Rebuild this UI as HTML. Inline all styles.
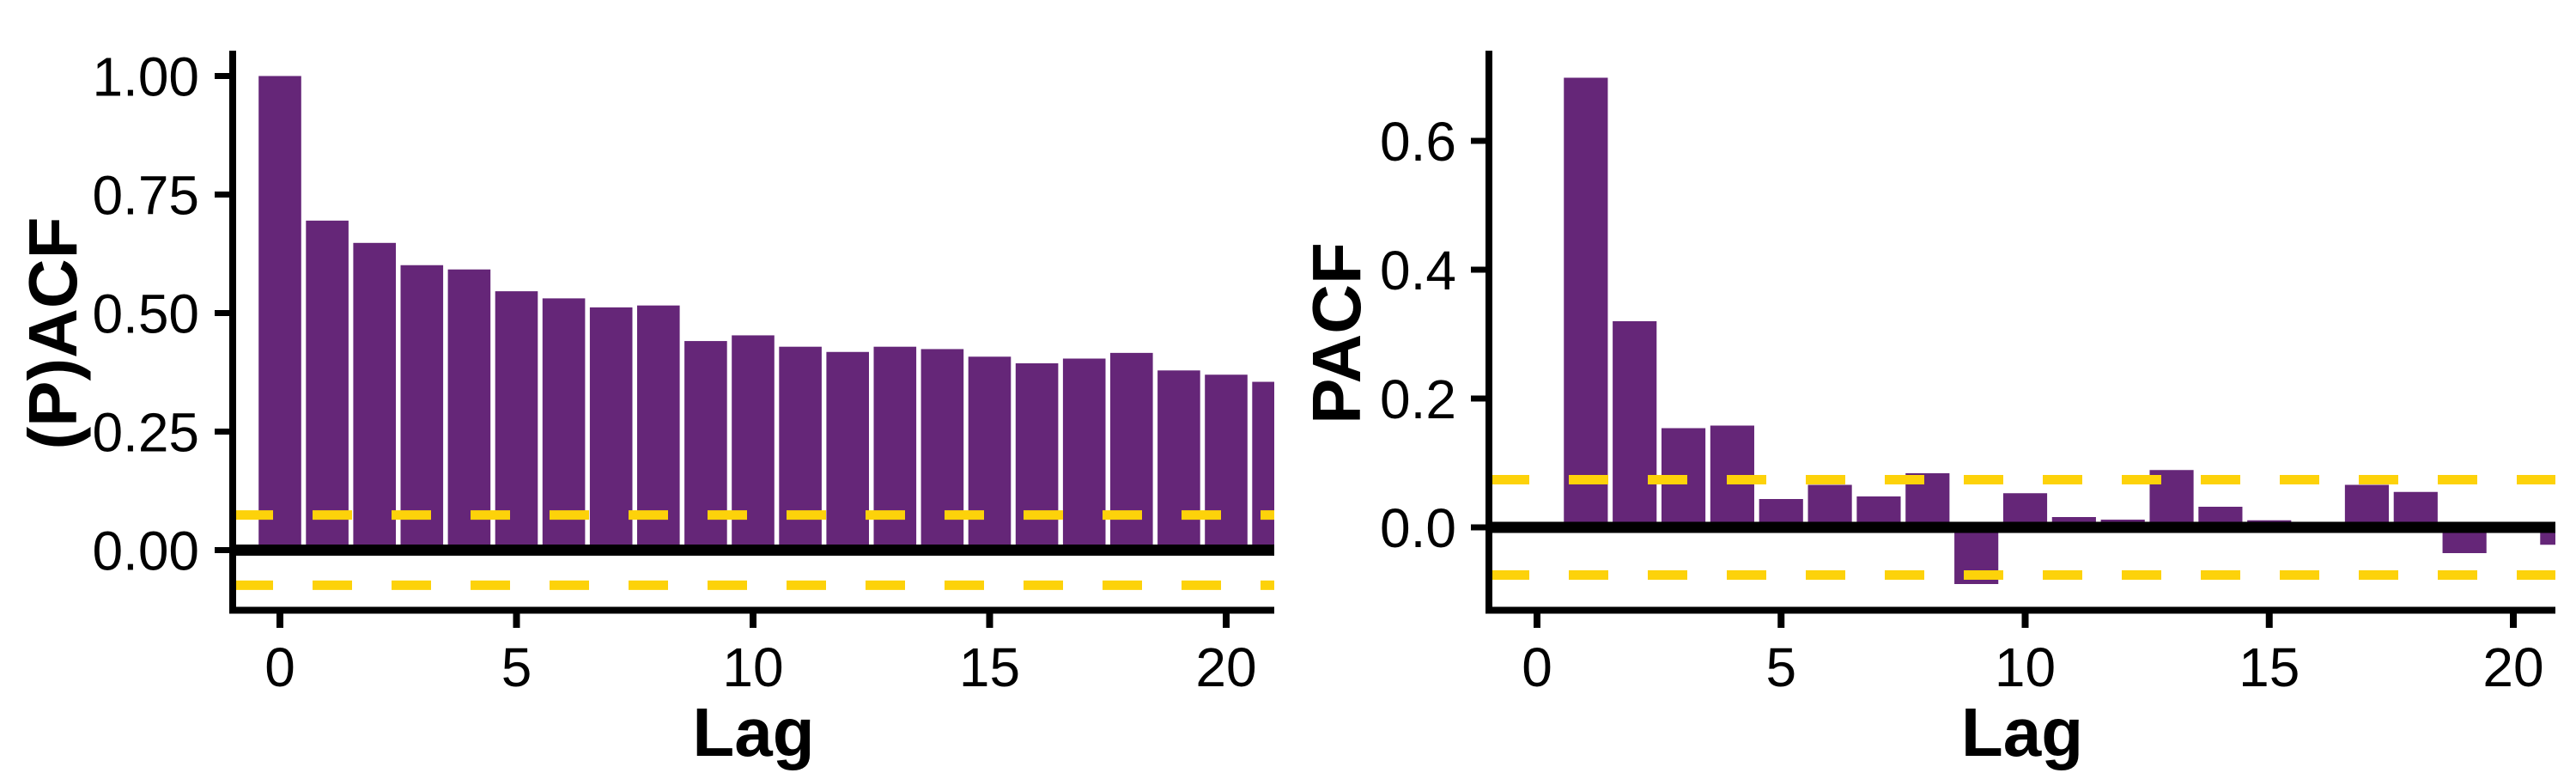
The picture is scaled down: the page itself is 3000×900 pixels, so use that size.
<!DOCTYPE html>
<html><head><meta charset="utf-8"><style>
html,body{margin:0;padding:0;background:#fff;width:3000px;height:900px;overflow:hidden}
svg{display:block}
text{font-family:"Liberation Sans",Arial,sans-serif;fill:#000}
</style></head><body>
<svg id="chart" width="3000" height="900" viewBox="0 0 3000 900" xmlns="http://www.w3.org/2000/svg"></svg>
<script>
const acfLags = [0,1,2,3,4,5,6,7,8,9,10,11,12,13,14,15,16,17,18,19,20,21];
const acfValues = [1.0,0.695,0.648,0.601,0.592,0.546,0.531,0.512,0.516,0.441,0.453,0.429,0.418,0.429,0.424,0.408,0.394,0.404,0.416,0.379,0.370,0.355];
const acfTicks = [0,0.25,0.5,0.75,1.0];
const acfTickLabels = ["0.00","0.25","0.50","0.75","1.00"];
const pacfLags = [1,2,3,4,5,6,7,8,9,10,11,12,13,14,15,16,17,18,19,20,21];
const pacfValues = [0.698,0.32,0.154,0.158,0.044,0.066,0.048,0.084,-0.088,0.053,0.016,0.012,0.089,0.032,0.011,0.002,0.066,0.055,-0.040,-0.002,-0.027];
const pacfTicks = [0,0.2,0.4,0.6];
const pacfTickLabels = ["0.0","0.2","0.4","0.6"];
const xTicks = [0,5,10,15,20];
const confBound = 0.074;

const NS="http://www.w3.org/2000/svg";
const svg=document.getElementById('chart');
function mk(tag,attrs,parent){const e=document.createElementNS(NS,tag);for(const k in attrs)e.setAttribute(k,attrs[k]);(parent||svg).appendChild(e);return e;}

function panel(p){
  const g=mk('g',{});
  
  
  const xs=l=>p.x0+(l)*p.xStep;
  const ys=v=>p.y0-v*p.yUnit;
  const cid='clip-'+p.name;
  const cp=mk('clipPath',{id:cid},g);
  mk('rect',{x:p.left,y:40,width:p.right-p.left,height:700},cp);
  const inner=mk('g',{'clip-path':'url(#'+cid+')'},g);
  p.lags.forEach((l,i)=>{
    const v=p.values[i];
    const y1=ys(Math.max(v,0)), y2=ys(Math.min(v,0));
    const r=mk('rect',{x:xs(l)-0.45*p.xStep,y:y1,width:0.9*p.xStep,height:Math.max(y2-y1,0.5),fill:'#652678'},inner);
    
    
  });
  [confBound,-confBound].forEach((c,i)=>{
    const ln=mk('line',{x1:p.dashStart,x2:p.right,y1:ys(c),y2:ys(c),stroke:'#fdd20a','stroke-width':11,'stroke-dasharray':'46 46'},inner);
    
    
  });
  const z=mk('line',{x1:p.left,x2:p.right,y1:ys(0),y2:ys(0),stroke:'#000','stroke-width':13},inner);
  
  
  const ya=mk('line',{x1:p.left,x2:p.left,y1:59,y2:714,stroke:'#000','stroke-width':8},g);
  
  
  const xa=mk('line',{x1:p.left-4,x2:p.right,y1:710.5,y2:710.5,stroke:'#000','stroke-width':8},g);
  
  
  p.yTicks.forEach((t,i)=>{
    mk('line',{x1:p.left-21,x2:p.left,y1:ys(t),y2:ys(t),stroke:'#000','stroke-width':7},g);
    const tx=mk('text',{x:p.labelRight,y:ys(t)+23,'text-anchor':'end','font-size':64},g);
    tx.textContent=p.yTickLabels[i];
    
    
  });
  xTicks.forEach(t=>{
    mk('line',{x1:xs(t),x2:xs(t),y1:710,y2:731,stroke:'#000','stroke-width':8},g);
    const tx=mk('text',{x:xs(t),y:799,'text-anchor':'middle','font-size':64},g);
    tx.textContent=String(t);
    
    
  });
  const xt=mk('text',{x:(p.left+p.right)/2,y:880,'text-anchor':'middle','font-size':80,'font-weight':'bold'},g);
  xt.textContent='Lag';
  
  
  const yt=mk('text',{x:0,y:0,'text-anchor':'middle','font-size':80,'font-weight':'bold',transform:'translate('+(p.titleX)+',388) rotate(-90)'},g);
  yt.textContent=p.yTitle;
  
  
}
panel({name:'acf-panel',lags:acfLags,values:acfValues,yTicks:acfTicks,yTickLabels:acfTickLabels,
  x0:326,xStep:55.1,y0:640.5,yUnit:552,left:271,right:1484,dashStart:272,labelRight:232,titleX:89,yTitle:'(P)ACF'});
panel({name:'pacf-panel',lags:pacfLags,values:pacfValues,yTicks:pacfTicks,yTickLabels:pacfTickLabels,
  x0:1790,xStep:56.85,y0:614,yUnit:750,left:1734,right:2976,dashStart:1735,labelRight:1696,titleX:1584,yTitle:'PACF'});
</script>
</body></html>
